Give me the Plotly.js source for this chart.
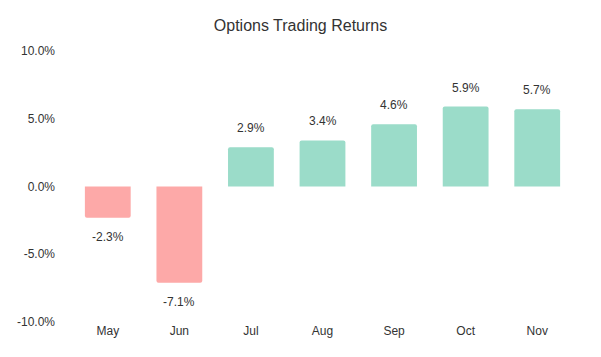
<!DOCTYPE html>
<html>
<head>
<meta charset="utf-8">
<script src="https://cdn.plot.ly/plotly-3.0.1.min.js"></script>
<style>html,body{margin:0;padding:0;background:#fff;}#chart{width:601px;height:357px;}</style>
</head>
<body>
<div id="chart"></div>
<script>
const months = ["May", "Jun", "Jul", "Aug", "Sep", "Oct", "Nov"];
const returnsPct = [-2.3, -7.1, 2.9, 3.4, 4.6, 5.9, 5.7];
const tickValues = [-10, -5, 0, 5, 10];
const tickLabels = ["-10.0%", "-5.0%", "0.0%", "5.0%", "10.0%"];

const posColor = "#9bdcc9";
const negColor = "#fda9a8";
const textColor = "#333333";

const colors = returnsPct.map(v => v < 0 ? negColor : posColor);
const annotations = months.map((m, i) => ({
  x: m, y: returnsPct[i], xref: "x", yref: "y",
  text: returnsPct[i].toFixed(1) + "%",
  showarrow: false, yanchor: "middle",
  yshift: returnsPct[i] < 0 ? -19 : 19,
  font: {family: "Liberation Sans, Arial, sans-serif", size: 12, color: textColor}
}));

Plotly.newPlot("chart", [{
  type: "bar",
  x: months,
  y: returnsPct,
  marker: {color: colors, cornerradius: 2},
  width: 0.64,
  hoverinfo: "none"
}], {
  width: 601, height: 357,
  margin: {l: 72, r: 28, t: 51, b: 35},
  paper_bgcolor: "#fff", plot_bgcolor: "#fff",
  font: {family: "Liberation Sans, Arial, sans-serif", size: 12, color: textColor},
  title: {text: "Options Trading Returns", x: 0.5, xref: "container", y: 0.93, yanchor: "middle",
          font: {size: 16, color: textColor}},
  xaxis: {showgrid: false, zeroline: false, showline: false, ticks: "", tickfont: {size: 12}},
  yaxis: {range: [-10, 10], tickvals: tickValues, ticktext: tickLabels, showgrid: false,
          zeroline: false, showline: false, ticks: "", ticklabelstandoff: 16, tickfont: {size: 12}},
  annotations: annotations,
  showlegend: false
}, {displayModeBar: false, staticPlot: true});
</script>
</body>
</html>
